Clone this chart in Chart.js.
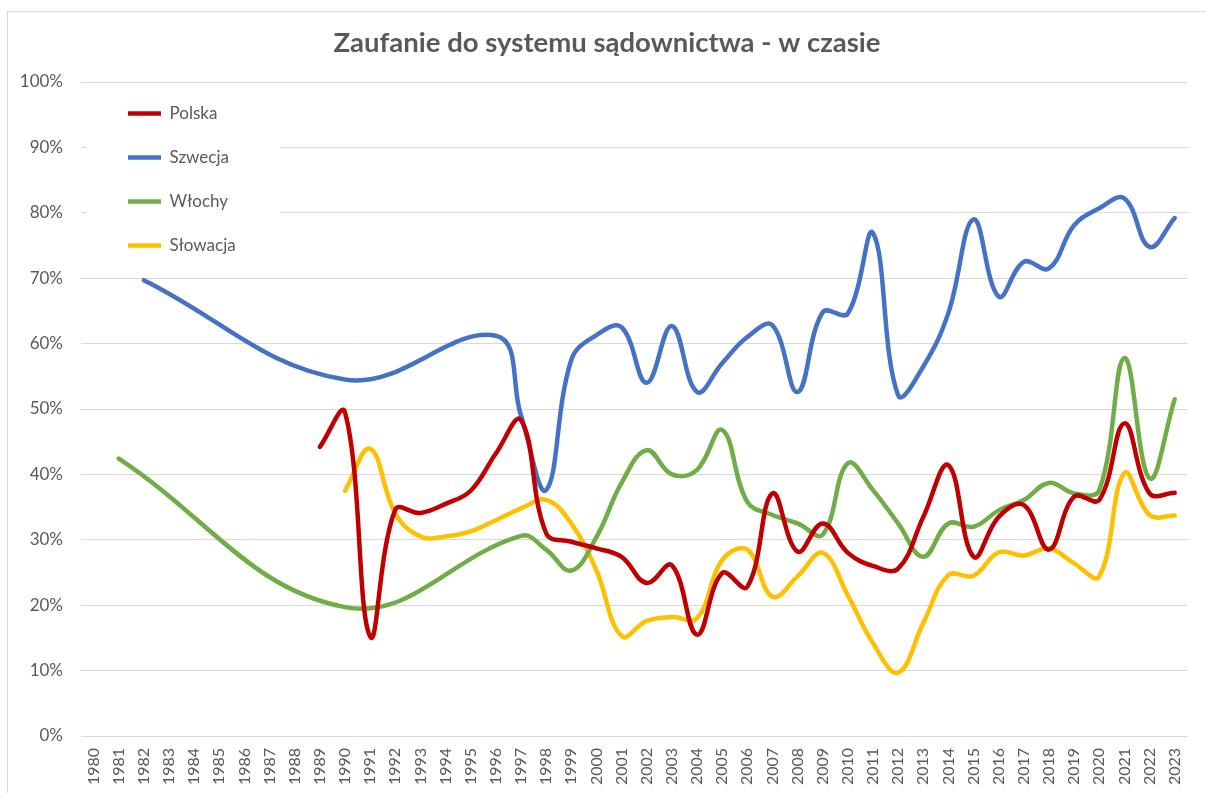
<!DOCTYPE html>
<html>
<head>
<meta charset="utf-8">
<script src="https://cdn.jsdelivr.net/npm/chart.js@4/dist/chart.umd.min.js"></script>
<style>
  html, body { margin: 0; padding: 0; background: #ffffff; }
  #wrap { width: 1206px; height: 793px; }
</style>
</head>
<body>
<div id="wrap"><canvas id="c" width="1206" height="793"></canvas></div>
<script>
const years = ['1980','1981','1982','1983','1984','1985','1986','1987','1988','1989','1990','1991','1992','1993','1994','1995','1996','1997','1998','1999','2000','2001','2002','2003','2004','2005','2006','2007','2008','2009','2010','2011','2012','2013','2014','2015','2016','2017','2018','2019','2020','2021','2022','2023'];

const seriesNames = ['Polska', 'Szwecja', 'Włochy', 'Słowacja'];

const polska = [null,null,null,null,null,null,null,null,null,44.2,49.5,15.2,34.6,34.1,35.5,37.5,43.2,48.3,31.0,29.7,28.7,27.4,23.4,26.1,15.5,24.9,22.8,37.1,28.2,32.5,28.0,26.0,25.6,33.5,41.4,27.4,33.5,35.3,28.5,36.6,36.1,47.8,37.1,37.2];

const szwecja = [null,null,69.7,null,null,null,null,null,null,null,54.5,null,null,null,null,null,61.2,49.0,37.6,57.5,61.3,62.5,54.0,62.7,52.6,57.0,61.0,62.8,52.6,64.8,64.6,76.9,52.1,56.5,64.7,79.0,67.2,72.5,71.5,78.1,80.7,82.2,74.8,79.2];

const wlochy = [null,42.4,null,null,null,null,null,null,null,null,19.7,null,null,null,null,null,null,30.6,28.5,25.3,30.4,38.7,43.7,40.0,40.7,46.8,35.8,33.8,32.5,30.8,41.7,37.6,32.5,27.4,32.5,32.0,34.5,36.1,38.7,37.1,37.6,57.8,39.4,51.5];

const slowacja = [null,null,null,null,null,null,null,null,null,null,37.5,43.9,34.0,30.5,30.5,31.3,33.0,34.8,36.1,32.5,25.3,15.3,17.6,18.2,18.0,26.9,28.5,21.3,24.4,28.0,21.5,14.2,9.7,17.3,24.6,24.5,28.1,27.6,28.7,26.4,24.4,40.2,33.8,33.7];

const yTicks = [0,10,20,30,40,50,60,70,80,90,100];
const titleText = 'Zaufanie do systemu sądownictwa - w czasie';
const colors = ['#C00000', '#4472C4', '#70AD47', '#FFC000'];
const seriesData = [polska, szwecja, wlochy, slowacja];

const TXT = '#595959';
const GRID = '#d9d9d9';

const frame = {
  id: 'frame',
  beforeDraw(chart) {
    const ctx = chart.ctx;
    ctx.save();
    ctx.fillStyle = '#ffffff';
    ctx.fillRect(0, 0, chart.width, chart.height);
    ctx.strokeStyle = GRID;
    ctx.lineWidth = 1;
    ctx.strokeRect(7.5, 11.5, chart.width + 10, chart.height + 10);
    ctx.restore();
  }
};

const legendPlace = {
  id: 'legendPlace',
  afterLayout(chart) {
    const lg = chart.legend;
    if (!lg) return;
    lg.left = 101; lg.top = 78; lg.right = 300; lg.bottom = 736;
    lg.width = 199; lg.height = 658;
  },
  beforeDatasetsDraw(chart) {
    const ctx = chart.ctx;
    ctx.save();
    ctx.fillStyle = '#ffffff';
    ctx.fillRect(86, 88, 194, 180);
    ctx.restore();
    if (chart.legend) chart.legend.draw();
  }
};

const datasets = seriesNames.map((name, i) => ({
  label: name,
  data: seriesData[i],
  borderColor: colors[i],
  backgroundColor: colors[i],
  borderWidth: 4.5,
  pointRadius: 0,
  pointHoverRadius: 0,
  tension: 0.4,
  spanGaps: true,
  fill: false,
  borderCapStyle: 'round',
  borderJoinStyle: 'round'
}));

new Chart(document.getElementById('c'), {
  type: 'line',
  data: { labels: years, datasets },
  options: {
    responsive: false,
    animation: false,
    devicePixelRatio: 1,
    layout: { padding: { left: 16, right: 8, top: 0, bottom: 0 } },
    plugins: {
      title: {
        display: true,
        text: titleText,
        color: TXT,
        font: { family: 'Lato', size: 27.5, weight: 'bold', lineHeight: 1.2 },
        padding: { top: 27, bottom: 22 }
      },
      legend: {
        display: true,
        position: 'chartArea',
        align: 'start',
        labels: {
          usePointStyle: true,
          pointStyle: 'line',
          pointStyleWidth: 33,
          padding: 27,
          color: TXT,
          font: { family: 'Lato', size: 17 }
        }
      },
      tooltip: { enabled: false }
    },
    scales: {
      x: {
        type: 'category',
        offset: true,
        grid: { display: false, drawTicks: false },
        border: { display: false },
        ticks: {
          autoSkip: false,
          minRotation: 90,
          maxRotation: 90,
          padding: 12,
          color: TXT,
          font: { family: 'Lato', size: 16 }
        },
        afterFit(scale) { scale.height = 57; }
      },
      y: {
        min: 0,
        max: 100,
        afterBuildTicks(scale) { scale.ticks = yTicks.map(v => ({ value: v })); },
        grid: { color: GRID, lineWidth: 1, drawTicks: false },
        border: { display: false },
        ticks: {
          padding: 18,
          color: TXT,
          font: { family: 'Lato', size: 17 },
          callback: (v) => v + '%'
        },
        afterFit(scale) { scale.width = 65; }
      }
    }
  },
  plugins: [frame, legendPlace]
});
</script>
</body>
</html>
